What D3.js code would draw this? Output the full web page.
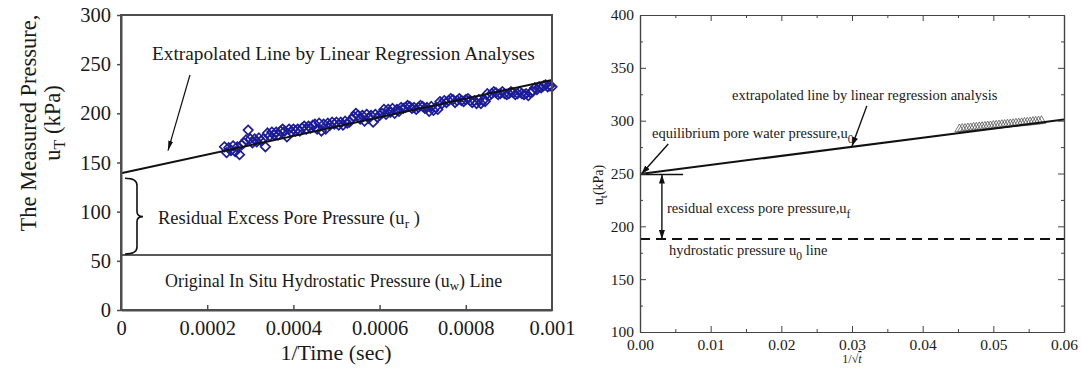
<!DOCTYPE html>
<html><head><meta charset="utf-8">
<script src="https://cdn.jsdelivr.net/npm/d3@7/dist/d3.min.js"></script>
<style>
body{margin:0;background:#fff}
svg{display:block}
text{font-family:"Liberation Serif","Times New Roman",serif;fill:#1a1a1a}
</style>
</head><body>
<svg id="c" width="1081" height="377"></svg>
<script>
// ---------- LEFT PANEL DATA ----------
const leftXTicks = [0, 0.0002, 0.0004, 0.0006, 0.0008, 0.001];
const leftXTickLabels = ["0", "0.0002", "0.0004", "0.0006", "0.0008", "0.001"];
const leftYTicks = [0, 50, 100, 150, 200, 250, 300];
const leftMainX = [0.00024,0.00025,0.00026,0.00027,0.00028,0.00029,0.00030,0.00031,0.00032,0.00033,
  0.00034,0.00035,0.00036,0.00037,0.00038,0.00039,0.00040,0.00041,0.00042,0.00043,0.00044,
  0.00045,0.00046,0.00047,0.00048,0.00049,0.00050,0.00051,0.00052,0.00053,
  0.00054,0.00055,0.00056,0.00057,0.00058,0.00059,0.00060,0.00061,0.00062,0.00063,0.00064,
  0.00065,0.00066,0.00067,0.00068,0.00069,0.00070,0.00071,0.00072,0.00073,
  0.00074,0.00075,0.00076,0.00077,0.00078,0.00079,0.00080,0.00081,0.00082,0.00083,0.00084,
  0.00085,0.00086,0.00087,0.00088,0.00089,0.00090,0.00091,0.00092,0.00093,0.00094,0.00095,
  0.00096,0.00097,0.00098,0.00099,0.00100];
const leftMainY = [166,165,167,166,168,173,174,174,175,174,
  180,181,181,182,182,184,184,184,185,184,185,
  189,190,189,190,191,191,191,192,191,
  197,198,198,199,198,199,198,204,204,205,204,
  206,206,207,206,206,207,206,207,206,
  212,213,213,214,213,213,214,213,213,214,213,
  220,220,221,220,220,220,221,220,220,220,221,
  226,227,228,227,227];
const leftScatterX = [0.000245,0.000255,0.000265,0.000275,0.000285,0.000295,0.000305,0.000315,0.000325,0.000335,
  0.000345,0.000355,0.000365,0.000375,0.000385,0.000395,0.000405,0.000415,0.000425,0.000435,
  0.000445,0.000455,0.000465,0.000475,0.000485,0.000495,0.000505,0.000515,0.000525,0.000535,
  0.000545,0.000555,0.000565,0.000575,0.000585,0.000595,0.000605,0.000615,0.000625,0.000635,
  0.000645,0.000655,0.000665,0.000675,0.000685,0.000695,0.000705,0.000715,0.000725,0.000735,
  0.000745,0.000755,0.000765,0.000775,0.000785,0.000795,0.000805,0.000815,0.000825,0.000835,
  0.000845,0.000855,0.000865,0.000875,0.000885,0.000895,0.000905,0.000915,0.000925,0.000935,
  0.000945,0.000955,0.000965,0.000975,0.000985,0.000995];
const leftScatterY = [160,162,161,158,170,183,170,171,172,166,
  177,178,178,184,176,181,182,182,187,187,
  188,184,182,184,188,189,188,188,190,194,
  200,194,192,195,191,196,200,199,201,200,
  202,205,208,205,204,208,205,202,203,204,
  210,211,215,211,215,212,215,211,210,210,
  212,218,222,219,222,219,222,219,222,219,
  218,222,224,226,229,228];
const leftFitX = [0, 0.001];
const leftFitY = [139, 234];
const leftHydroX = [0, 0.001];
const leftHydroY = [56, 56];
const leftBraceY = [134, 95, 57];          // top, tip, bottom (kPa)
const leftBraceX = [0.0000093, 0.0000371, 0.000051]; // ends, spine, tip
const leftArrowX = [0.00016, 0.000109];
const leftArrowY = [239, 162];

// ---------- RIGHT PANEL DATA ----------
const rightXTicks = [0, 0.01, 0.02, 0.03, 0.04, 0.05, 0.06];
const rightXMinor = [0.005, 0.015, 0.025, 0.035, 0.045, 0.055];
const rightYTicks = [100, 150, 200, 250, 300, 350, 400];
const rightYMinor = [125, 175, 225, 275, 325, 375];
const rightDataX = [0.0452,0.0456,0.0460,0.0464,0.0468,0.0472,0.0476,0.0480,0.0484,0.0488,
  0.0492,0.0496,0.0500,0.0504,0.0508,0.0512,0.0516,0.0520,0.0524,0.0528,
  0.0532,0.0536,0.0540,0.0544,0.0548,0.0552,0.0556,0.0560,0.0564,0.0568];
const rightDataY = [292.0,292.4,292.5,292.9,293.0,293.5,293.6,293.9,294.2,294.4,
  294.8,294.9,295.3,295.5,295.7,296.1,296.2,296.6,296.8,297.0,
  297.4,297.6,297.8,298.2,298.4,298.6,299.0,299.2,299.5,299.8];
const rightFitX = [0, 0.06];
const rightFitY = [249.5, 301];
const rightEqX = [0, 0.0061];      // short horizontal line at u0
const rightEqY = [249, 249];
const rightHydroX = [0, 0.06];
const rightHydroY = [188, 188];
const rightDblArrowX = [0.0031, 0.0031];
const rightDblArrowY = [249, 188];
const rightEqArrowX = [0.0040, 0.0002];
const rightEqArrowY = [278, 249.5];
const rightFitArrowX = [0.0321, 0.0300];
const rightFitArrowY = [314, 276];

const svg = d3.select("#c");
const defs = svg.append("defs");
function mk(id, w, h) {
  defs.append("marker").attr("id", id).attr("viewBox", `0 0 ${w} ${h}`)
    .attr("refX", w).attr("refY", h / 2).attr("markerWidth", w).attr("markerHeight", h)
    .attr("markerUnits", "userSpaceOnUse").attr("orient", "auto-start-reverse")
    .append("path").attr("d", `M0,0L${w},${h/2}L0,${h}Z`).attr("fill", "#111");
}
mk("ahL", 10, 5);
mk("ahR", 9, 6);

function label(g, x, y, parts, size, opts = {}) {
  const t = g.append("text").attr("x", x).attr("y", y).attr("font-size", size)
    .attr("text-anchor", opts.anchor || "start");
  if (opts.rotate) t.attr("transform", `rotate(${opts.rotate},${x},${y})`);
  let back = 0;
  parts.forEach(p => {
    if (typeof p === "string") {
      const s = t.append("tspan").text(p);
      if (back) { s.attr("dy", -back); back = 0; }
    } else {
      t.append("tspan").attr("font-size", size * (p.scale || 0.72)).attr("dy", p.dy).text(p.sub);
      back = p.dy;
    }
  });
  return t;
}

// ================= LEFT PANEL =================
const xL = d3.scaleLinear().domain([0, 0.001]).range([121, 552]);
const yL = d3.scaleLinear().domain([0, 300]).range([310, 15]);
const gL = svg.append("g");
const axisColor = "#4d4d4d";

// data markers (diamonds)
const diamond = d3.symbol().type(d3.symbolDiamond2 || d3.symbolDiamond).size(56);
const leftPts = leftMainX.map((x, i) => [x, leftMainY[i]])
  .concat(leftScatterX.map((x, i) => [x, leftScatterY[i]]));
gL.append("g").selectAll("path").data(leftPts).join("path")
  .attr("d", diamond)
  .attr("transform", d => `translate(${xL(d[0])},${yL(d[1])})`)
  .attr("fill", "none").attr("stroke", "#1c1c98").attr("stroke-width", 1.7);

const lineL = d3.line().x(d => xL(d[0])).y(d => yL(d[1]));
gL.append("path").attr("d", lineL(leftFitX.map((x, i) => [x, leftFitY[i]])))
  .attr("stroke", "#111").attr("stroke-width", 2).attr("fill", "none");
gL.append("path").attr("d", lineL(leftHydroX.map((x, i) => [x, leftHydroY[i]])))
  .attr("stroke", "#222").attr("stroke-width", 1.6).attr("fill", "none");

// brace
{
  const xa = xL(leftBraceX[0]), xs = xL(leftBraceX[1]), xt = xL(leftBraceX[2]);
  const yt = yL(leftBraceY[0]), ym = yL(leftBraceY[1]), yb = yL(leftBraceY[2]);
  const p = d3.path();
  p.moveTo(xa, yt); p.quadraticCurveTo(xs, yt, xs, yt + 7);
  p.lineTo(xs, ym - 5); p.quadraticCurveTo(xs, ym, xt, ym);
  p.quadraticCurveTo(xs, ym, xs, ym + 5);
  p.lineTo(xs, yb - 7); p.quadraticCurveTo(xs, yb, xa, yb);
  gL.append("path").attr("d", p.toString()).attr("fill", "none").attr("stroke", "#111").attr("stroke-width", 1.6);
}
// arrow
gL.append("line").attr("x1", xL(leftArrowX[0])).attr("y1", yL(leftArrowY[0]))
  .attr("x2", xL(leftArrowX[1])).attr("y2", yL(leftArrowY[1]))
  .attr("stroke", "#111").attr("stroke-width", 1.2).attr("marker-end", "url(#ahL)");

// axes
const axB = gL.append("g").attr("transform", "translate(0,310)")
  .call(d3.axisBottom(xL).tickValues(leftXTicks).tickSize(-5).tickSizeOuter(0).tickPadding(10)
    .tickFormat((d, i) => leftXTickLabels[i]));
const axLft = gL.append("g").attr("transform", "translate(121,0)")
  .call(d3.axisLeft(yL).tickValues(leftYTicks).tickSize(4).tickSizeOuter(0).tickPadding(6));
gL.append("rect").attr("x", 121).attr("y", 15).attr("width", 431).attr("height", 295)
  .attr("fill", "none").attr("stroke", axisColor).attr("stroke-width", 2);
[axB, axLft].forEach(a => {
  a.select(".domain").attr("stroke", axisColor).attr("stroke-width", 2);
  a.selectAll(".tick line").attr("stroke", axisColor).attr("stroke-width", 1.5);
  a.selectAll("text").attr("font-size", 20.5).attr("fill", "#1a1a1a")
    .attr("font-family", '"Liberation Serif","Times New Roman",serif');
});
axB.selectAll(".tick").filter(d => d === 0 || d === 0.001).select("line").remove();

// texts
label(gL, 152, 60, ["Extrapolated Line by Linear Regression Analyses"], 19.3);
label(gL, 158, 224, ["Residual Excess Pore Pressure (u", {sub: "r", dy: 4}, " )"], 18.5);
label(gL, 165, 287, ["Original In Situ Hydrostatic Pressure (u", {sub: "w", dy: 3}, ") Line"], 17.9);
label(gL, 336, 360, ["1/Time (sec)"], 22, {anchor: "middle"});
label(gL, 36, 123, ["The Measured Pressure,"], 22.5, {anchor: "middle", rotate: -90});
label(gL, 60, 123, ["u", {sub: "T", dy: 5}, " (kPa)"], 22.5, {anchor: "middle", rotate: -90});

// ================= RIGHT PANEL =================
const xR = d3.scaleLinear().domain([0, 0.06]).range([640, 1064]);
const yR = d3.scaleLinear().domain([100, 400]).range([332, 15]);
const gR = svg.append("g");
const rAxisColor = "#444";

const tri = d3.symbol().type(d3.symbolTriangle).size(34);
gR.append("g").selectAll("path").data(rightDataX.map((x, i) => [x, rightDataY[i]])).join("path")
  .attr("d", tri).attr("transform", d => `translate(${xR(d[0])},${yR(d[1])})`)
  .attr("fill", "none").attr("stroke", "#555").attr("stroke-width", 0.8);

const lineR = d3.line().x(d => xR(d[0])).y(d => yR(d[1]));
gR.append("path").attr("d", lineR(rightFitX.map((x, i) => [x, rightFitY[i]])))
  .attr("stroke", "#111").attr("stroke-width", 2).attr("fill", "none");
gR.append("path").attr("d", lineR(rightEqX.map((x, i) => [x, rightEqY[i]])))
  .attr("stroke", "#111").attr("stroke-width", 1.6).attr("fill", "none");
gR.append("path").attr("d", lineR(rightHydroX.map((x, i) => [x, rightHydroY[i]])))
  .attr("stroke", "#111").attr("stroke-width", 2).attr("stroke-dasharray", "10,6").attr("fill", "none");
gR.append("path").attr("d", lineR(rightDblArrowX.map((x, i) => [x, rightDblArrowY[i]])))
  .attr("stroke", "#111").attr("stroke-width", 1.4).attr("fill", "none")
  .attr("marker-start", "url(#ahR)").attr("marker-end", "url(#ahR)");
gR.append("path").attr("d", lineR(rightEqArrowX.map((x, i) => [x, rightEqArrowY[i]])))
  .attr("stroke", "#111").attr("stroke-width", 1.4).attr("fill", "none").attr("marker-end", "url(#ahR)");
gR.append("path").attr("d", lineR(rightFitArrowX.map((x, i) => [x, rightFitArrowY[i]])))
  .attr("stroke", "#111").attr("stroke-width", 1.4).attr("fill", "none").attr("marker-end", "url(#ahR)");

// axes
const fmt = d3.format(".2f");
const rB = gR.append("g").attr("transform", "translate(0,332)")
  .call(d3.axisBottom(xR).tickValues(rightXTicks).tickSize(-6).tickSizeOuter(0).tickPadding(7).tickFormat(fmt));
const rBm = gR.append("g").attr("transform", "translate(0,332)")
  .call(d3.axisBottom(xR).tickValues(rightXMinor).tickSize(-3).tickSizeOuter(0).tickFormat(""));
const rT = gR.append("g").attr("transform", "translate(0,15)")
  .call(d3.axisTop(xR).tickValues(rightXTicks).tickSize(-6).tickSizeOuter(0).tickFormat(""));
const rTm = gR.append("g").attr("transform", "translate(0,15)")
  .call(d3.axisTop(xR).tickValues(rightXMinor).tickSize(-3).tickSizeOuter(0).tickFormat(""));
const rL = gR.append("g").attr("transform", "translate(640,0)")
  .call(d3.axisLeft(yR).tickValues(rightYTicks).tickSize(-6).tickSizeOuter(0).tickPadding(6));
const rLm = gR.append("g").attr("transform", "translate(640,0)")
  .call(d3.axisLeft(yR).tickValues(rightYMinor).tickSize(-3).tickSizeOuter(0).tickFormat(""));
const rR = gR.append("g").attr("transform", "translate(1064,0)")
  .call(d3.axisRight(yR).tickValues(rightYTicks).tickSize(-6).tickSizeOuter(0).tickFormat(""));
const rRm = gR.append("g").attr("transform", "translate(1064,0)")
  .call(d3.axisRight(yR).tickValues(rightYMinor).tickSize(-3).tickSizeOuter(0).tickFormat(""));
[rBm, rT, rTm, rLm, rR, rRm].forEach(a => a.selectAll(".tick text").remove());
[rB, rBm, rT, rTm, rL, rLm, rR, rRm].forEach(a => {
  a.select(".domain").attr("stroke", rAxisColor).attr("stroke-width", 1.2);
  a.selectAll(".tick line").attr("stroke", rAxisColor).attr("stroke-width", 1);
  a.selectAll("text").attr("font-size", 15.5).attr("fill", "#1a1a1a")
    .attr("font-family", '"Liberation Serif","Times New Roman",serif');
});

label(gR, 732, 100, ["extrapolated line by linear regression analysis"], 14.5);
label(gR, 652, 138, ["equilibrium pore water pressure,u", {sub: "0", dy: 5, scale: 0.8}], 14.5);
label(gR, 667, 213, ["residual excess pore pressure,u", {sub: "f", dy: 5, scale: 0.8}], 14.5);
label(gR, 669, 255, ["hydrostatic pressure u", {sub: "0", dy: 5, scale: 0.8}, " line"], 14.5);
label(gR, 603, 185, ["u", {sub: "t", dy: 4, scale: 0.8}, "(kPa)"], 14, {anchor: "middle", rotate: -90});
{
  const t = gR.append("text").attr("x", 852).attr("y", 363).attr("font-size", 12).attr("text-anchor", "middle");
  t.append("tspan").text("1/\u221A");
  t.append("tspan").attr("font-style", "italic").attr("text-decoration", "overline").text("t");
}
</script>
</body></html>
